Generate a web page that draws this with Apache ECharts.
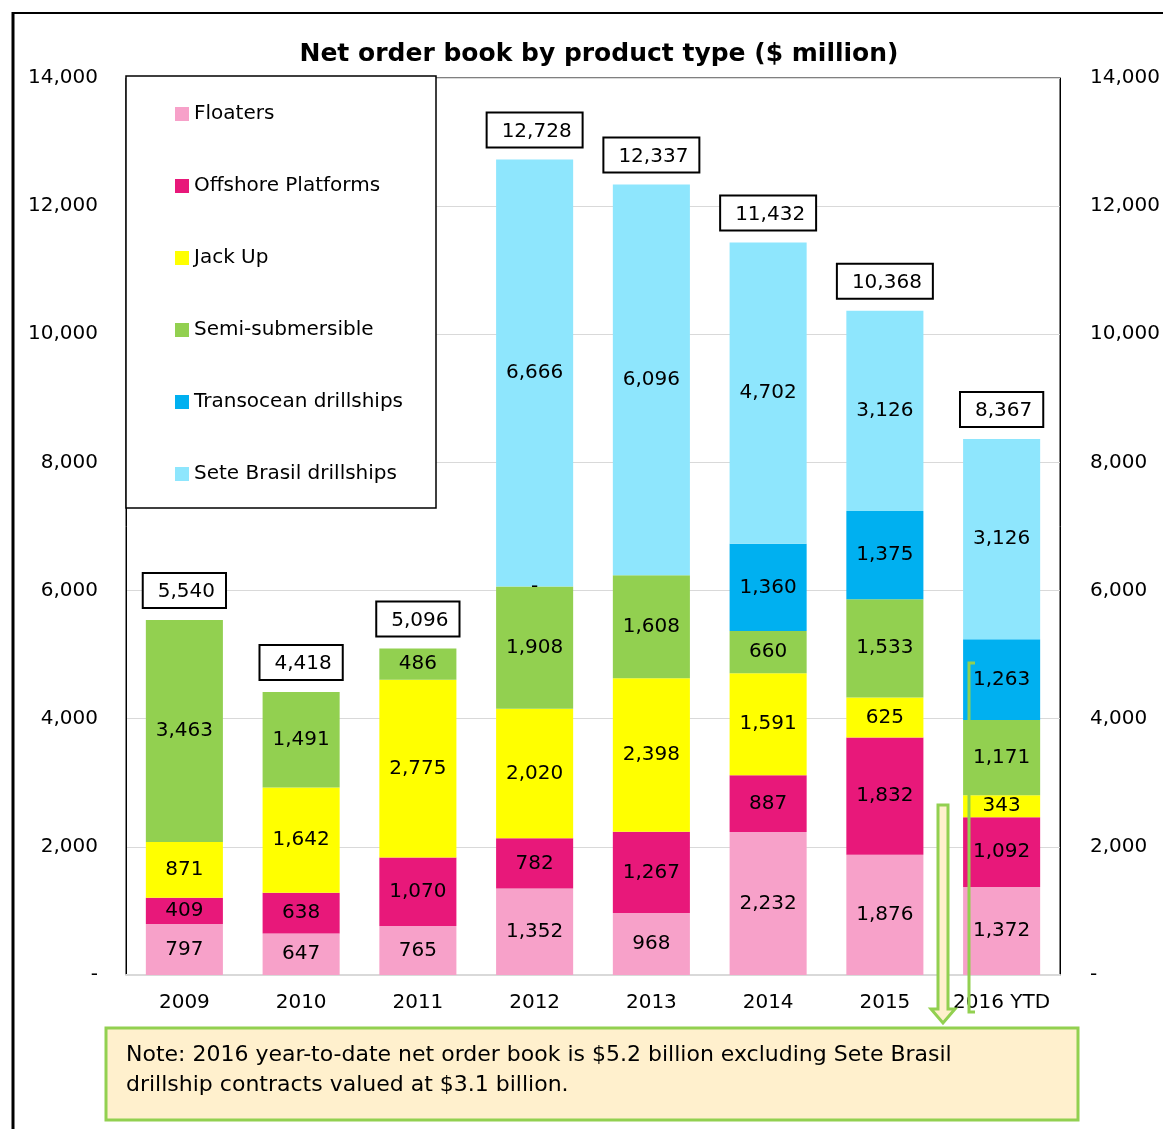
<!DOCTYPE html>
<html>
<head>
<meta charset="utf-8">
<script src="https://cdn.jsdelivr.net/npm/echarts@6/dist/echarts.min.js"></script>
<style>
  html, body { margin: 0; padding: 0; background: #fff; }
  #chart { width: 1163px; height: 1129px; }
</style>
</head>
<body>
<div id="chart"></div>
<script>
var years = ['2009', '2010', '2011', '2012', '2013', '2014', '2015', '2016 YTD'];
var floaters = [797, 647, 765, 1352, 968, 2232, 1876, 1372];
var offshore = [409, 638, 1070, 782, 1267, 887, 1832, 1092];
var jackUp = [871, 1642, 2775, 2020, 2398, 1591, 625, 343];
var semiSub = [3463, 1491, 486, 1908, 1608, 660, 1533, 1171];
var transocean = [null, null, null, 0, null, 1360, 1375, 1263];
var seteBrasil = [null, null, null, 6666, 6096, 4702, 3126, 3126];
var totals = [5540, 4418, 5096, 12728, 12337, 11432, 10368, 8367];

var FONT = 'DejaVu Sans';

function fmt(v) {
    if (v === 0) return '-';
    return v.toLocaleString('en-US');
}

function segment(name, data, color) {
    return {
        name: name,
        type: 'bar',
        stack: 'book',
        data: data,
        barWidth: '66%',
        itemStyle: { color: color },
        label: {
            show: true,
            position: 'inside',
            color: '#000',
            fontFamily: FONT,
            fontSize: 20,
            formatter: function (p) { return fmt(p.value); }
        }
    };
}

var chart = echarts.init(document.getElementById('chart'));

chart.setOption({
    animation: false,
    title: {
        text: 'Net order book by product type ($ million)',
        left: 594,
        textAlign: 'center',
        top: 37,
        textStyle: { fontFamily: FONT, fontSize: 25, fontWeight: 'bold', color: '#000' }
    },
    grid: {
        left: 126, right: 103, top: 78, bottom: 154,
        show: true, borderColor: '#000', borderWidth: 1
    },
    legend: {
        orient: 'vertical',
        left: 175,
        top: 104,
        padding: 0,
        itemWidth: 14,
        itemHeight: 14,
        itemGap: 52,
        icon: 'rect',
        z: 6,
        data: ['Floaters', 'Offshore Platforms', 'Jack Up', 'Semi-submersible', 'Transocean drillships', 'Sete Brasil drillships'],
        textStyle: { fontFamily: FONT, fontSize: 20, color: '#000' }
    },
    xAxis: {
        type: 'category',
        data: years,
        axisTick: { show: false },
        axisLine: { lineStyle: { color: '#d9d9d9', width: 2 } },
        axisLabel: { fontFamily: FONT, fontSize: 20, color: '#000', margin: 18, interval: 0 }
    },
    yAxis: [{
        type: 'value',
        min: 0, max: 14000, interval: 2000,
        axisLine: { show: true, lineStyle: { color: '#000' } },
        splitLine: { lineStyle: { color: '#d9d9d9' } },
        axisLabel: { fontFamily: FONT, fontSize: 20, color: '#000', margin: 28, formatter: fmt }
    }, {
        type: 'value',
        position: 'right',
        min: 0, max: 14000, interval: 2000,
        axisLine: { show: true, lineStyle: { color: '#000' } },
        splitLine: { show: false },
        axisLabel: { fontFamily: FONT, fontSize: 20, color: '#000', margin: 30, formatter: fmt }
    }],
    series: [
        segment('Floaters', floaters, '#f7a1c9'),
        segment('Offshore Platforms', offshore, '#e8187a'),
        segment('Jack Up', jackUp, '#ffff00'),
        segment('Semi-submersible', semiSub, '#92d050'),
        segment('Transocean drillships', transocean, '#00b0f0'),
        segment('Sete Brasil drillships', seteBrasil, '#8ee6fd'),
        {
            name: 'Total',
            type: 'scatter',
            data: totals,
            symbolSize: 2,
            itemStyle: { color: 'rgba(0,0,0,0)', opacity: 1 },
            z: 10,
            label: {
                show: true,
                position: 'top',
                distance: 12,
                color: '#000',
                fontFamily: FONT,
                fontSize: 20,
                backgroundColor: '#fff',
                borderColor: '#000',
                borderWidth: 2,
                padding: [8, 10, 5, 14],
                formatter: function (p) { return fmt(p.value); }
            }
        }
    ],
    graphic: [
        // outer frame
        { type: 'line', shape: { x1: 13, y1: 12, x2: 13, y2: 1129 }, style: { stroke: '#000', lineWidth: 3 } },
        { type: 'line', shape: { x1: 12, y1: 13, x2: 1163, y2: 13 }, style: { stroke: '#000', lineWidth: 2 } },
        // legend box
        { type: 'rect', z: 5, shape: { x: 126, y: 76, width: 310, height: 432 },
          style: { fill: '#fff', stroke: '#000', lineWidth: 1.5 } },
        // note box
        { type: 'rect', z: 5, shape: { x: 106, y: 1028, width: 972, height: 92 },
          style: { fill: '#fff0cd', stroke: '#92d050', lineWidth: 3 } },
        { type: 'text', z: 6, x: 126, y: 1040,
          style: { text: 'Note: 2016 year-to-date net order book is $5.2 billion excluding Sete Brasil\ndrillship contracts valued at $3.1 billion.',
                   font: '22px "DejaVu Sans"', fill: '#000', lineHeight: 30 } },
        // hollow arrow
        { type: 'polygon', z: 7,
          shape: { points: [[938, 805], [948, 805], [948, 1009], [955, 1009], [943, 1023], [931, 1009], [938, 1009]] },
          style: { fill: '#fff0cd', stroke: '#92d050', lineWidth: 3 } },
        // bracket line
        { type: 'polyline', z: 7,
          shape: { points: [[975, 663], [969, 663], [969, 1012], [975, 1012]] },
          style: { stroke: '#92d050', lineWidth: 3, fill: null } }
    ]
});
</script>
</body>
</html>
